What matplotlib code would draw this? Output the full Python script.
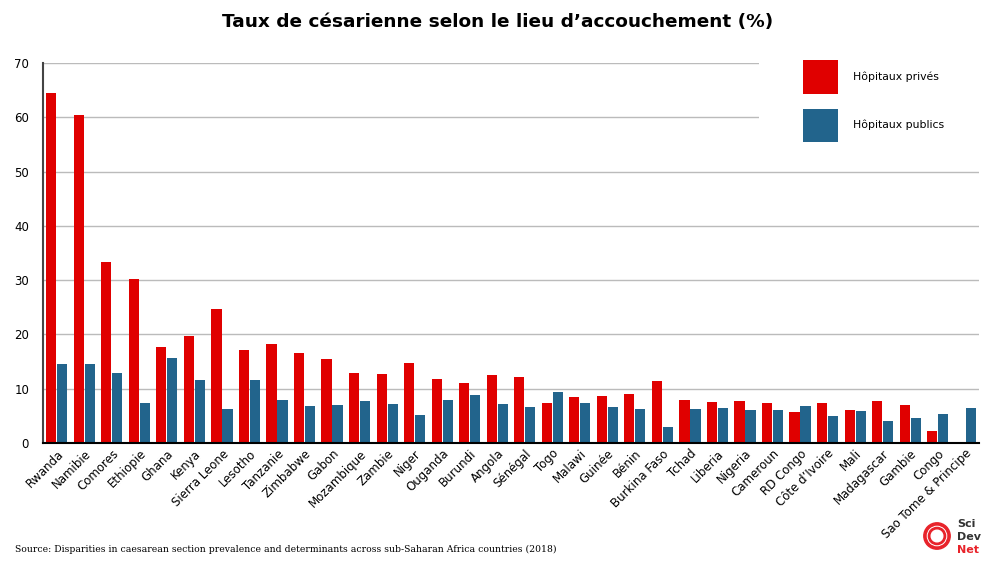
import numpy as np
import matplotlib
matplotlib.use('Agg')
import matplotlib.pyplot as plt
from matplotlib.patches import Patch, Rectangle, Circle

plt.rcParams['font.family'] = ['DejaVu Sans']

pays = ['Rwanda', 'Namibie', 'Comores', 'Ethiopie', 'Ghana', 'Kenya', 'Sierra Leone',
        'Lesotho', 'Tanzanie', 'Zimbabwe', 'Gabon', 'Mozambique', 'Zambie', 'Niger',
        'Ouganda', 'Burundi', 'Angola', 'Sénégal', 'Togo', 'Malawi', 'Guinée', 'Bénin',
        'Burkina Faso', 'Tchad', 'Liberia', 'Nigeria', 'Cameroun', 'RD Congo',
        'Côte d\u2019Ivoire', 'Mali', 'Madagascar', 'Gambie', 'Congo', 'Sao Tome & Principe']
prives = [64.4, 60.4, 33.3, 30.2, 17.6, 19.7, 24.7, 17.1, 18.3, 16.6, 15.5, 12.9, 12.8,
          14.7, 11.8, 11.0, 12.5, 12.2, 7.3, 8.5, 8.6, 9.1, 11.4, 7.9, 7.5, 7.8, 7.4,
          5.7, 7.3, 6.0, 7.8, 7.0, 2.3, 0.15]
publics = [14.6, 14.6, 12.9, 7.4, 15.6, 11.6, 6.3, 11.6, 7.9, 6.8, 7.0, 7.8, 7.2, 5.1,
           8.0, 8.8, 7.1, 6.6, 9.4, 7.3, 6.7, 6.2, 3.0, 6.3, 6.4, 6.0, 6.0, 6.8, 4.9,
           5.9, 4.0, 4.6, 5.3, 6.4]
yticks = [0, 10, 20, 30, 40, 50, 60, 70]

rouge = '#e00000'
bleu = '#22648c'

fig = plt.figure(figsize=(9.96, 5.67), dpi=100)
ax = fig.add_axes([43/996, 1-443/567, 936/996, 380/567])

x = np.arange(len(pays))
w = 0.37
ax.bar(x-0.2, prives, width=w, color=rouge, zorder=3)
ax.bar(x+0.2, publics, width=w, color=bleu, zorder=3)

ax.set_xlim(-0.5, len(pays)-0.5)
ax.set_ylim(0, 70)
ax.set_yticks(yticks)
ax.tick_params(axis='y', length=0, pad=10, labelsize=8.5)
ax.tick_params(axis='x', length=0, pad=3)
ax.set_xticks(x)
ax.set_xticklabels(pays, rotation=45, ha='right', rotation_mode='anchor', fontsize=8.5)
ax.grid(axis='y', color='#bbbbbb', lw=1, zorder=0)
ax.set_axisbelow(True)
for s in ['top', 'right']:
    ax.spines[s].set_visible(False)
ax.spines['left'].set_color('#444444')
ax.spines['left'].set_linewidth(1.5)
ax.spines['bottom'].set_color('black')
ax.spines['bottom'].set_linewidth(1.5)
ax.spines['bottom'].set_zorder(4)

# fond blanc sous la legende
ax.add_patch(Rectangle((759/996, 1-150/567), 0.3, 0.3, transform=fig.transFigure,
                       facecolor='white', edgecolor='none', zorder=1, clip_on=False))

handles = [Patch(facecolor=rouge, label='Hôpitaux privés'),
           Patch(facecolor=bleu, label='Hôpitaux publics')]
fig.legend(handles=handles, loc='upper left', bbox_to_anchor=(803/996, 1-60/567),
           frameon=False, fontsize=7.8, handlelength=3.2, handleheight=4.4,
           handletextpad=1.4, labelspacing=1.4, borderpad=0, borderaxespad=0)

fig.text(0.5, 1-22/567, 'Taux de césarienne selon le lieu d\u2019accouchement (%)',
         ha='center', va='center', fontsize=13.3, fontweight='bold')

fig.text(15/996, 1-549/567,
         'Source: Disparities in caesarean section prevalence and determinants across sub-Saharan Africa countries (2018)',
         ha='left', va='center', fontsize=6.7, family='DejaVu Serif')

# logo SciDevNet
lax = fig.add_axes([917/996, 1-556/567, 40/996, 40/567])
lax.set_xlim(-1, 1)
lax.set_ylim(-1, 1)
lax.set_aspect('equal')
lax.axis('off')
lax.add_patch(Circle((0, 0), 0.66, color='#e8232a'))
lax.add_patch(Circle((0, 0), 0.48, color='white'))
lax.add_patch(Circle((0, 0), 0.43, color='#e8232a'))
lax.add_patch(Circle((0, 0), 0.29, color='white'))
fig.text(957/996, 1-524/567, 'Sci', fontsize=8, fontweight='bold', color='#333333', va='center')
fig.text(957/996, 1-537/567, 'Dev', fontsize=8, fontweight='bold', color='#333333', va='center')
fig.text(957/996, 1-550/567, 'Net', fontsize=8, fontweight='bold', color='#e8232a', va='center')

fig.savefig('out.png', dpi=100)
